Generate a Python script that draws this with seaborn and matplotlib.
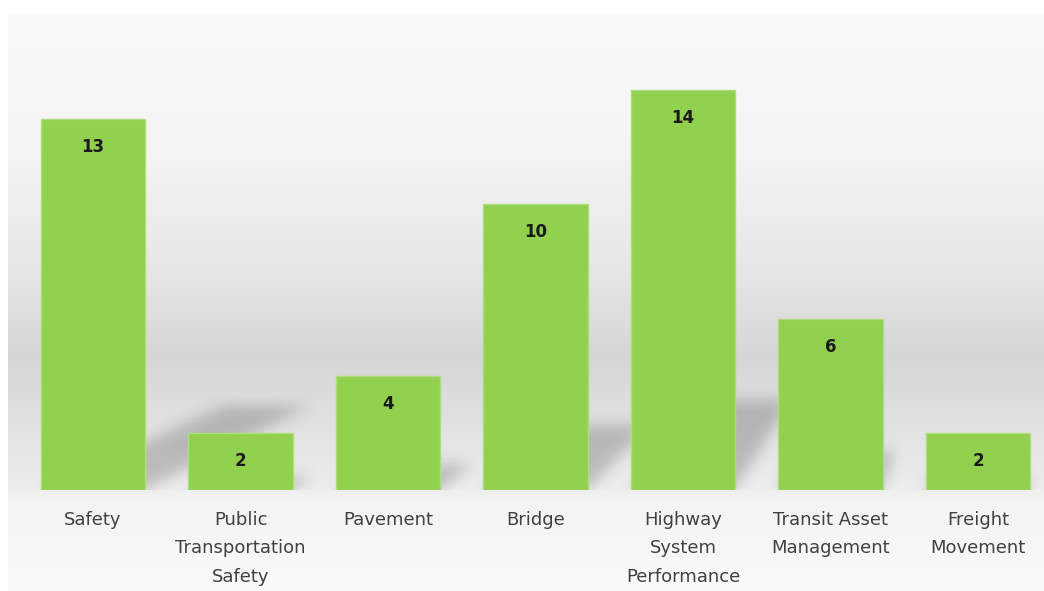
import numpy as np
import pandas as pd
import matplotlib
matplotlib.use('Agg')
import matplotlib.pyplot as plt
import seaborn as sns

# data
categories = ['Safety', 'Public\nTransportation\nSafety', 'Pavement', 'Bridge',
              'Highway\nSystem\nPerformance', 'Transit Asset\nManagement', 'Freight\nMovement']
counts = [13, 2, 4, 10, 14, 6, 2]

df = pd.DataFrame({'measure': categories, 'count': counts})

sns.set_style('white')
plt.rcParams['font.family'] = ['DejaVu Sans']

W, H = 1044, 591
fig = plt.figure(figsize=(W / 100, H / 100), dpi=100)

# background gradient (whole chart area)
bg = fig.add_axes([0, 0, 1, 1], zorder=-5)
stops_y = [0, 13, 150, 260, 355, 420, 490, 500, 591]
stops_v = [255, 251, 244, 232, 214, 224, 238, 243, 251]
yy = np.arange(H)
col = np.interp(yy, stops_y, stops_v) / 255.0
img = np.repeat(col[:, None], W, axis=1)
img[:13, :] = 1.0
img[:, :8] = 1.0
bg.imshow(np.dstack([img, img, img]), extent=(0, W, H, 0), aspect='auto')
bg.set_xlim(0, W)
bg.set_ylim(H, 0)
bg.axis('off')

# main axes
base_px = 490
top_px = 13
unit_px = 28.57
step_px = 147.5
first_px = 93
ax = fig.add_axes([0, (H - base_px) / H, 1, (base_px - top_px) / H])
ax.patch.set_alpha(0)

bar_w = 0.71
sns.barplot(data=df, x='measure', y='count', color='#92D050', saturation=1,
            width=bar_w, edgecolor='#aede7c', linewidth=1, ax=ax)
for p in ax.patches:
    p.set_zorder(3)

x0 = (0 - first_px) / step_px
x1 = (W - first_px) / step_px
ymax = (base_px - top_px) / unit_px
ax.set_xlim(x0, x1)
ax.set_ylim(0, ymax)

# perspective shadows: bar bases projected toward a vanishing point up-right
nx, ny = W, base_px - top_px
gx = np.linspace(x0, x1, nx)
gy = np.linspace(0, ymax, ny)
X, Y = np.meshgrid(gx, gy)
xv = (1010 - first_px) / step_px
yv = 443 / unit_px
s = 0.225
u = np.clip(Y / yv, 0, 0.95)
xb = (X - xv * u) / (1 - u)
mask = np.zeros_like(X)
for i, v in enumerate(counts):
    m = (Y <= s * v) & (xb >= i - bar_w / 2) & (xb <= i + bar_w / 2)
    mask[m] = 1.0
sig = 7.0
kx = np.arange(-25, 26)
kern = np.exp(-kx ** 2 / (2 * sig ** 2))
kern /= kern.sum()
blur = np.apply_along_axis(lambda r: np.convolve(r, kern, mode='same'), 1, mask)
blur = np.apply_along_axis(lambda c: np.convolve(c, kern, mode='same'), 0, blur)
shadow = np.zeros((ny, nx, 4))
shadow[..., :3] = 0.25
shadow[..., 3] = blur * 0.27
ax.imshow(shadow, extent=(x0, x1, 0, ymax), origin='lower', aspect='auto', zorder=1)
ax.set_xlim(x0, x1)
ax.set_ylim(0, ymax)

# value labels
for i, v in enumerate(counts):
    ax.annotate(str(v), (i, v), xytext=(0, -28), textcoords='offset pixels',
                ha='center', va='center', fontsize=12, fontweight='bold',
                color='#1a1a1a', zorder=4)

ax.set_xlabel('')
ax.set_ylabel('')
ax.set_yticks([])
ax.tick_params(axis='x', length=0, pad=15, labelsize=13, labelcolor='#404040')
for t in ax.get_xticklabels():
    t.set_linespacing(1.75)
sns.despine(ax=ax, left=True, bottom=True)

fig.savefig('out.png', dpi=100)
